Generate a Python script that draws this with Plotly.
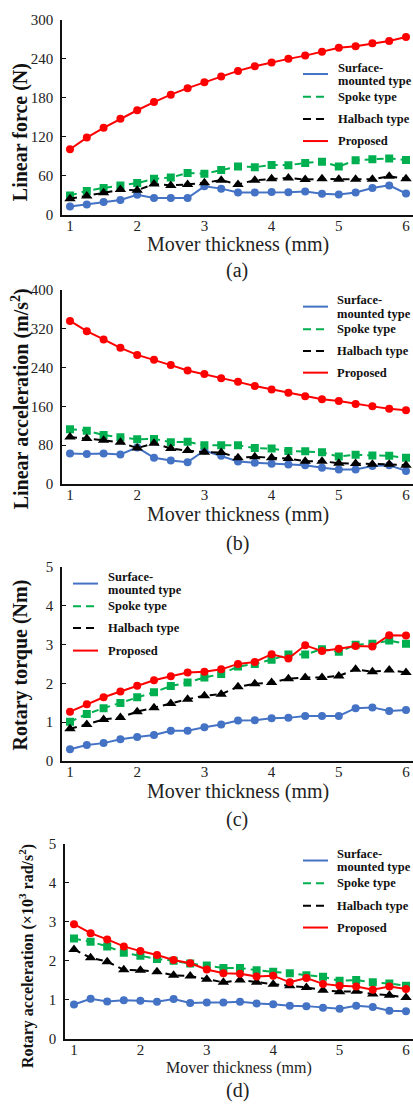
import plotly.graph_objects as go

W, H = 413, 1109

# Mover thickness sweep (mm)
thickness = [1.0, 1.25, 1.5, 1.75, 2.0, 2.25, 2.5, 2.75, 3.0, 3.25, 3.5,
             3.75, 4.0, 4.25, 4.5, 4.75, 5.0, 5.25, 5.5, 5.75, 6.0]

series_names = ["Surface-mounted type", "Spoke type", "Halbach type", "Proposed"]

# (a) Linear force (N)
force_surface = [13, 16, 20, 23, 31, 26, 26, 26, 44, 40.5, 34.5, 34.5, 35.5, 35, 36, 32.5, 31.5, 34.5, 41.5, 45.5, 33]
force_spoke = [30, 37, 41.5, 45.5, 49, 55.5, 57.5, 64.5, 63.5, 69, 74.5, 73.5, 77, 76.5, 80, 82, 74.5, 84, 85.5, 87, 84.5]
force_halbach = [25, 29, 34, 39, 38, 47.5, 45.5, 47, 49.5, 53.5, 47, 53.5, 55.5, 57, 54.5, 55.5, 55, 55, 55, 59.5, 55.5]
force_proposed = [101, 119, 134, 148, 161, 173.5, 185, 195, 204, 213, 221.5, 228.5, 234.5, 240, 245, 251, 257, 259.5, 264, 267.5, 273.5]

# (b) Linear acceleration (m/s^2)
lacc_surface = [63, 62, 63, 61, 75.5, 54, 48.5, 45, 69, 58.5, 46.5, 44, 42, 40, 38.5, 33.5, 30, 30, 37, 38.5, 27]
lacc_spoke = [113, 110, 101, 96.5, 92, 93, 86, 87, 80, 80, 80, 74, 73, 68, 67.5, 65.5, 56.5, 60.5, 59, 58, 54]
lacc_halbach = [97, 94, 90, 86, 74, 84, 73, 69, 65.5, 65, 54, 56, 54, 52.5, 47, 47, 43, 42.5, 40.5, 40.5, 38.5]
lacc_proposed = [336, 315, 298, 280.5, 266, 256, 245, 234, 226.5, 218, 210.5, 202, 195, 188, 181, 174.5, 171, 165, 160, 155, 152]

# (c) Rotary torque (Nm)
torque_surface = [0.30, 0.41, 0.46, 0.56, 0.62, 0.67, 0.78, 0.78, 0.87, 0.94, 1.04, 1.05, 1.10, 1.11, 1.16, 1.16, 1.16, 1.36, 1.38, 1.29, 1.31]
torque_spoke = [1.01, 1.21, 1.36, 1.49, 1.64, 1.77, 1.93, 2.02, 2.15, 2.24, 2.43, 2.50, 2.61, 2.74, 2.74, 2.88, 2.81, 2.99, 3.02, 3.10, 3.02]
torque_halbach = [0.83, 0.94, 1.07, 1.12, 1.27, 1.37, 1.48, 1.59, 1.68, 1.72, 1.91, 1.99, 2.02, 2.12, 2.15, 2.15, 2.19, 2.36, 2.30, 2.34, 2.28]
torque_proposed = [1.27, 1.46, 1.64, 1.79, 1.94, 2.08, 2.18, 2.28, 2.30, 2.36, 2.50, 2.55, 2.75, 2.64, 2.98, 2.83, 2.89, 2.96, 2.95, 3.24, 3.23]

# (d) Rotary acceleration (x10^3 rad/s^2)
racc_surface = [0.88, 1.03, 0.96, 0.99, 0.98, 0.95, 1.02, 0.92, 0.93, 0.93, 0.95, 0.91, 0.89, 0.85, 0.84, 0.80, 0.77, 0.85, 0.82, 0.72, 0.71]
racc_spoke = [2.57, 2.49, 2.37, 2.21, 2.13, 2.05, 2.00, 1.93, 1.88, 1.82, 1.82, 1.76, 1.72, 1.68, 1.63, 1.59, 1.49, 1.51, 1.45, 1.42, 1.36]
racc_halbach = [2.29, 2.08, 1.98, 1.77, 1.76, 1.72, 1.63, 1.61, 1.53, 1.45, 1.51, 1.45, 1.40, 1.36, 1.32, 1.25, 1.21, 1.22, 1.15, 1.12, 1.06]
racc_proposed = [2.94, 2.71, 2.55, 2.37, 2.25, 2.15, 2.02, 1.94, 1.78, 1.68, 1.67, 1.60, 1.62, 1.45, 1.56, 1.41, 1.36, 1.34, 1.26, 1.34, 1.28]

COLORS = ["#4472C4", "#00B050", "#000000", "#FF0000"]
DASHES = ["solid", "7px,5px", "7px,5px", "solid"]
SYMBOLS = ["circle", "square", "triangle-up", "circle"]
SIZES = [8, 8, 10, 8]

SERIF = "Liberation Serif, Times New Roman, serif"


def fx(px):
    return px / W


def fy(py):
    return 1 - py / H


panels = [
    dict(data=[force_surface, force_spoke, force_halbach, force_proposed],
         left=62, top=12, bottom=210, x1px=70, x6px=406,
         yrange=[0, 300], dtick=60,
         ytitle="Linear force (N)", ytitle_xy=(20, 126), ytitle_size=20,
         xtitle_y=240, xtitle_size=20, tag="(a)", tag_y=266,
         leg=dict(x0=303, x1=328, tx=336, ys=[67, 90, 112.5, 135])),
    dict(data=[lacc_surface, lacc_spoke, lacc_halbach, lacc_proposed],
         left=62, top=286, bottom=483, x1px=70, x6px=406,
         yrange=[0, 400], dtick=80,
         ytitle="Linear acceleration (m/s<sup>2</sup>)", ytitle_xy=(20, 397), ytitle_size=20,
         xtitle_y=514, xtitle_size=20, tag="(b)", tag_y=543,
         leg=dict(x0=303, x1=328, tx=335, ys=[303, 326, 348, 370])),
    dict(data=[torque_surface, torque_spoke, torque_halbach, torque_proposed],
         left=62, top=567, bottom=764, x1px=70, x6px=406,
         yrange=[0, 5], dtick=1,
         ytitle="Rotary torque (Nm)", ytitle_xy=(20, 667), ytitle_size=20,
         xtitle_y=795, xtitle_size=20, tag="(c)", tag_y=823,
         leg=dict(x0=73, x1=98, tx=106, ys=[584, 607, 629, 652])),
    dict(data=[racc_surface, racc_spoke, racc_halbach, racc_proposed],
         left=65, top=848, bottom=1046, x1px=74, x6px=406,
         yrange=[0, 5], dtick=1,
         ytitle="Rotary acceleration (×10<sup>3</sup> rad/s<sup>2</sup>)", ytitle_xy=(26, 962), ytitle_size=16,
         xtitle_y=1076, xtitle_size=16, tag="(d)", tag_y=1098,
         leg=dict(x0=303, x1=328, tx=335, ys=[865, 888, 911, 933])),
]

fig = go.Figure()
annotations = []
shapes = []

for i, p in enumerate(panels):
    n = "" if i == 0 else str(i + 1)
    xa, ya = "x" + n, "y" + n
    for k in range(4):
        fig.add_trace(go.Scatter(
            x=thickness, y=p["data"][k], name=series_names[k], showlegend=False,
            xaxis=xa, yaxis=ya, mode="lines+markers",
            line=dict(color=COLORS[k], width=2, dash=DASHES[k]),
            marker=dict(symbol=SYMBOLS[k], size=SIZES[k], color=COLORS[k], line=dict(width=0)),
        ))

    # x range derived from tick pixel positions of 1 and 6
    scale = (p["x6px"] - p["x1px"]) / 5.0
    xr = [1 - (p["x1px"] - p["left"]) / scale, 6 + (W - p["x6px"]) / scale]

    fig.layout["xaxis" + n] = dict(
        domain=[fx(p["left"]), 1.0], range=xr, anchor=ya,
        tickmode="array", tickvals=[1, 2, 3, 4, 5, 6], ticks="",
        showline=True, linecolor="#111", linewidth=1.5, mirror=False,
        showgrid=False, zeroline=False, ticklabelstandoff=-4,
        tickfont=dict(family=SERIF, size=15, color="#222"),
    )
    fig.layout["yaxis" + n] = dict(
        domain=[fy(p["bottom"]), fy(p["top"])], range=p["yrange"], anchor=xa,
        dtick=p["dtick"], tick0=0, ticks="inside", ticklen=4, tickwidth=1, tickcolor="#111",
        showline=True, linecolor="#111", linewidth=1.5,
        showgrid=False, zeroline=False, ticklabelstandoff=4,
        tickfont=dict(family=SERIF, size=15, color="#222"),
    )

    cx = (p["left"] + W) / 2
    annotations.append(dict(
        text="Mover thickness (mm)", xref="paper", yref="paper",
        x=fx(cx), y=fy(p["xtitle_y"]), xanchor="center", yanchor="middle",
        showarrow=False, font=dict(family=SERIF, size=p["xtitle_size"], color="#222")))
    annotations.append(dict(
        text=p["tag"], xref="paper", yref="paper",
        x=fx(237), y=fy(p["tag_y"]), xanchor="center", yanchor="middle",
        showarrow=False, font=dict(family=SERIF, size=20, color="#222")))
    tx, ty = p["ytitle_xy"]
    annotations.append(dict(
        text="<b>" + p["ytitle"] + "</b>", xref="paper", yref="paper", textangle=-90,
        x=fx(tx), y=fy(ty), xanchor="center", yanchor="middle",
        showarrow=False, font=dict(family=SERIF, size=p["ytitle_size"], color="#111")))

    # legend: line samples with bold labels
    lg = p["leg"]
    for k in range(4):
        yk = lg["ys"][k]
        shapes.append(dict(
            type="line", xref="paper", yref="paper",
            x0=fx(lg["x0"]), x1=fx(lg["x1"]), y0=fy(yk), y1=fy(yk),
            line=dict(color=COLORS[k], width=2, dash="solid" if DASHES[k] == "solid" else "8px,5px")))
        if k == 0:
            parts = [("Surface-", yk - 6.5), ("mounted type", yk + 7)]
        else:
            parts = [(series_names[k], yk)]
        for txt, yy in parts:
            annotations.append(dict(
                text="<b>" + txt + "</b>", xref="paper", yref="paper",
                x=fx(lg["tx"]), y=fy(yy), xanchor="left", yanchor="middle",
                showarrow=False, font=dict(family=SERIF, size=12.5, color="#111")))

fig.update_layout(
    width=W, height=H,
    margin=dict(l=0, r=0, t=0, b=0),
    paper_bgcolor="white", plot_bgcolor="white",
    showlegend=False,
    annotations=annotations, shapes=shapes,
)

fig.write_html("out.html")
